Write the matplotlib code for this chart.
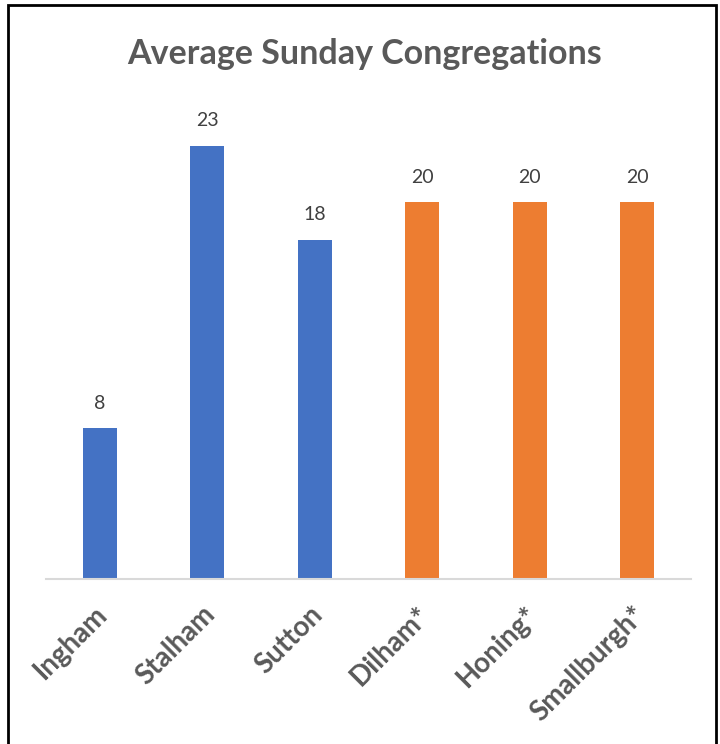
import matplotlib.pyplot as plt
from matplotlib.patches import Rectangle
from matplotlib.transforms import ScaledTranslation

churches = ['Ingham', 'Stalham', 'Sutton', 'Dilham*', 'Honing*', 'Smallburgh*']
attendance = [8, 23, 18, 20, 20, 20]
bar_colors = ['#4472C4', '#4472C4', '#4472C4', '#ED7D31', '#ED7D31', '#ED7D31']

plt.rcParams['font.family'] = ['Lato', 'DejaVu Sans']

fig = plt.figure(figsize=(7.2, 7.44), dpi=100)
ax = fig.add_axes([0.064, 0.2218, 0.896, 0.633])

x = range(len(churches))
bars = ax.bar(x, attendance, width=0.316, color=bar_colors)

# value labels above each bar
for rect, val in zip(bars, attendance):
    ax.annotate(str(val), (rect.get_x() + rect.get_width() / 2, val),
                xytext=(0, 12), textcoords='offset points',
                ha='center', va='bottom', fontsize=14, color='#404040')

ax.set_xlim(-0.5, len(churches) - 0.5)
ax.set_ylim(0, 25)
ax.set_xticks(list(x))
ax.set_xticklabels(churches, rotation=45, ha='right', rotation_mode='anchor',
                   fontsize=20, fontweight='bold', color='#595959')
ax.tick_params(axis='x', length=0, pad=16)
# nudge the rotated labels a little to the left
shift = ScaledTranslation(-4 / 72, 0, fig.dpi_scale_trans)
for lbl in ax.get_xticklabels():
    lbl.set_transform(lbl.get_transform() + shift)
ax.set_yticks([])
for side in ['top', 'right', 'left']:
    ax.spines[side].set_visible(False)
ax.spines['bottom'].set_color('#D9D9D9')
ax.spines['bottom'].set_linewidth(1.5)

fig.text(0.507, 0.928, 'Average Sunday Congregations', ha='center', va='center',
         fontsize=24.5, fontweight='bold', color='#595959')

# outer frame
fig.patches.append(Rectangle((8 / 720, -0.01), 708 / 720, 1 - 5 / 744 + 0.01,
                             transform=fig.transFigure, fill=False,
                             edgecolor='black', linewidth=2))

fig.savefig('out.png', dpi=100)
